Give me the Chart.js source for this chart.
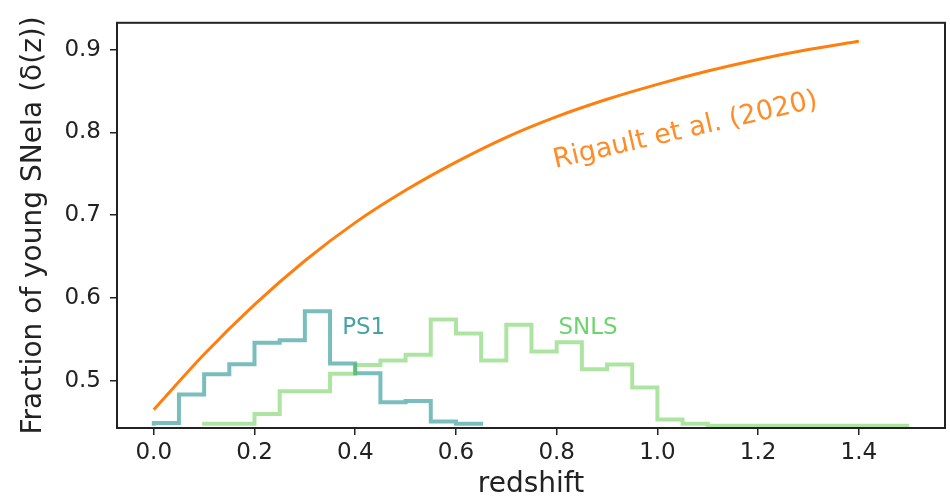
<!DOCTYPE html>
<html>
<head>
<meta charset="utf-8">
<script src="https://cdn.jsdelivr.net/npm/chart.js@4.4.0/dist/chart.umd.min.js"></script>
<style>
  html, body { margin: 0; padding: 0; background: #fff; }
  #wrap { width: 950px; height: 502px; }
</style>
</head>
<body>
<div id="wrap"><canvas id="myChart" width="950" height="502"></canvas></div>
<script>
// tick labels
var xTicks = [0.0, 0.2, 0.4, 0.6, 0.8, 1.0, 1.2, 1.4];
var yTicks = [0.5, 0.6, 0.7, 0.8, 0.9];

// Rigault et al. (2020) curve
var curveZ = [0.0, 0.1, 0.2, 0.3, 0.4, 0.5, 0.6, 0.7, 0.8, 0.9, 1.0, 1.1, 1.2, 1.3, 1.4];
var curveVal = [0.465, 0.532, 0.592, 0.645, 0.691, 0.730, 0.764, 0.794, 0.819, 0.840, 0.858, 0.874, 0.888, 0.900, 0.910];

// step histograms (value of each bin, bins 0.05 wide)
var baseline = 0.4458;
var ps1Edges = [0.0, 0.05, 0.1, 0.15, 0.2, 0.25, 0.3, 0.35, 0.4, 0.45, 0.5, 0.55, 0.6, 0.65];
var ps1Val = [0.449, 0.4835, 0.508, 0.52, 0.546, 0.549, 0.584, 0.521, 0.509, 0.474, 0.4756, 0.451, 0.448];
var snlsEdges = [0.1, 0.15, 0.2, 0.25, 0.3, 0.35, 0.4, 0.45, 0.5, 0.55, 0.6, 0.65, 0.7, 0.75, 0.8,
                 0.85, 0.9, 0.95, 1.0, 1.05, 1.1, 1.15, 1.2, 1.25, 1.3, 1.35, 1.4, 1.45, 1.5];
var snlsVal = [0.448, 0.448, 0.46, 0.4874, 0.4874, 0.5086, 0.519, 0.5244, 0.5315, 0.5739,
               0.557, 0.5244, 0.5676, 0.5354, 0.5464, 0.5138, 0.5197, 0.4918, 0.4532, 0.448,
               0.4458, 0.4458, 0.4458, 0.4458, 0.4458, 0.4458, 0.4458, 0.4458];

// point i carries the bin value from edge i to edge i+1, last point closes at the baseline
function steps(edges, vals) {
    var pts = [{ x: edges[0], y: baseline }];
    edges.forEach(function (e, i) {
        pts.push({ x: e, y: i < vals.length ? vals[i] : baseline });
    });
    return pts;
}

var FONT = "'DejaVu Sans', sans-serif";

// text labels drawn inside the plot + the box around it
var annotations = {
    id: 'annotations',
    afterDatasetsDraw: function (chart) {
        var c = chart.ctx, xs = chart.scales.x, ys = chart.scales.y, a = chart.chartArea;
        c.save();
        c.textBaseline = 'alphabetic';
        c.textAlign = 'left';

        c.font = "23px " + FONT;
        c.fillStyle = 'rgba(0,128,128,0.72)';
        c.fillText('PS1', xs.getPixelForValue(0.374), ys.getPixelForValue(0.557));
        c.fillStyle = 'rgba(40,190,40,0.68)';
        c.fillText('SNLS', xs.getPixelForValue(0.8036), ys.getPixelForValue(0.557));

        c.translate(xs.getPixelForValue(0.797), ys.getPixelForValue(0.757));
        c.rotate(-13 * Math.PI / 180);
        c.font = "27px " + FONT;
        c.fillStyle = 'rgba(255,127,14,0.9)';
        c.fillText('Rigault et al. (2020)', 0, 0);
        c.restore();

        c.save();
        c.strokeStyle = '#222';
        c.lineWidth = 2;
        c.strokeRect(a.left, a.top, a.right - a.left, a.bottom - a.top);
        c.restore();
    }
};

var ctx = document.getElementById('myChart').getContext('2d');
var myChart = new Chart(ctx, {
    type: 'line',
    data: {
        datasets: [
            {
                label: 'SNLS',
                data: steps(snlsEdges, snlsVal),
                stepped: 'before',
                borderColor: 'rgba(60,190,30,0.42)',
                borderWidth: 4,
                pointRadius: 0,
                fill: false
            },
            {
                label: 'PS1',
                data: steps(ps1Edges, ps1Val),
                stepped: 'before',
                borderColor: 'rgba(0,128,128,0.52)',
                borderWidth: 4,
                pointRadius: 0,
                fill: false
            },
            {
                label: 'Rigault et al. (2020)',
                data: curveZ.map(function (z, i) { return { x: z, y: curveVal[i] }; }),
                borderColor: '#ff7f0e',
                borderWidth: 3,
                pointRadius: 0,
                cubicInterpolationMode: 'monotone',
                fill: false
            }
        ]
    },
    options: {
        responsive: false,
        animation: false,
        layout: { padding: { top: 13, right: 5, left: 17, bottom: 0 } },
        plugins: {
            legend: { display: false },
            tooltip: { enabled: false }
        },
        scales: {
            x: {
                type: 'linear',
                min: -0.073,
                max: 1.571,
                afterBuildTicks: function (s) { s.ticks = xTicks.map(function (v) { return { value: v }; }); },
                afterFit: function (s) { s.height = 74; },
                grid: { display: true, drawOnChartArea: false, drawTicks: true, tickLength: 7, color: '#222', lineWidth: 1.5 },
                border: { display: true, color: '#222', width: 2 },
                ticks: {
                    padding: 4,
                    color: '#222',
                    font: { family: FONT, size: 23 },
                    maxRotation: 0,
                    callback: function (v) { return v.toFixed(1); }
                },
                title: {
                    display: true,
                    text: 'redshift',
                    color: '#222',
                    font: { family: FONT, size: 28 },
                    padding: { top: 0, bottom: 0 }
                }
            },
            y: {
                type: 'linear',
                min: 0.443,
                max: 0.9323,
                afterBuildTicks: function (s) { s.ticks = yTicks.map(function (v) { return { value: v }; }); },
                afterFit: function (s) { s.width = 100; },
                grid: { display: true, drawOnChartArea: false, drawTicks: true, tickLength: 7, color: '#222', lineWidth: 1.5 },
                border: { display: true, color: '#222', width: 2 },
                ticks: {
                    padding: 9,
                    color: '#222',
                    font: { family: FONT, size: 23 },
                    callback: function (v) { return v.toFixed(1); }
                },
                title: {
                    display: true,
                    text: 'Fraction of young SNeIa (δ(z))',
                    color: '#222',
                    font: { family: FONT, size: 28 },
                    padding: { top: 0, bottom: 0 }
                }
            }
        }
    },
    plugins: [annotations]
});
</script>
</body>
</html>
